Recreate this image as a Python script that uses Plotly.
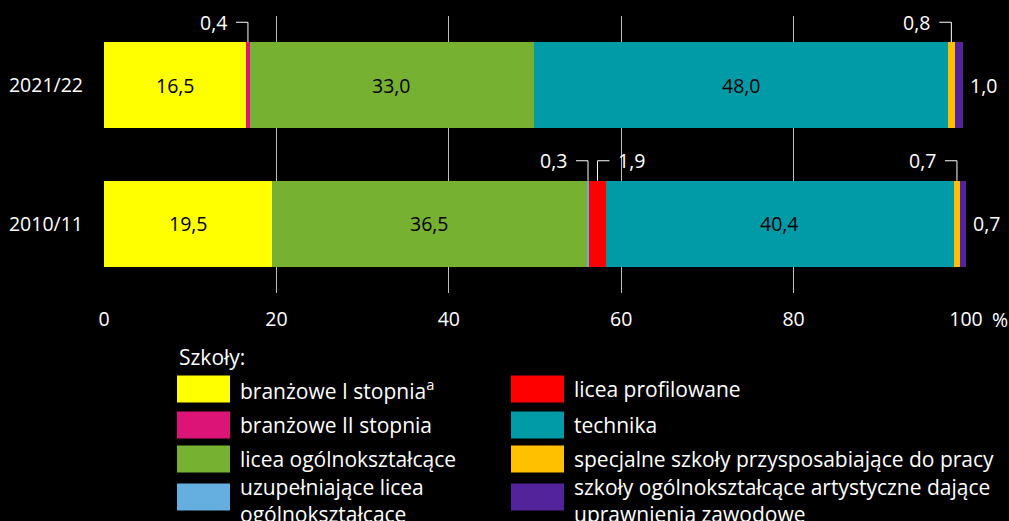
import plotly.graph_objects as go

categories = ["2010/11", "2021/22"]
series_names = [
    "branżowe I stopnia",
    "branżowe II stopnia",
    "licea ogólnokształcące",
    "uzupełniające licea ogólnokształcące",
    "licea profilowane",
    "technika",
    "specjalne szkoły przysposabiające do pracy",
    "szkoły ogólnokształcące artystyczne dające uprawnienia zawodowe",
]
legend_labels = [
    "branżowe I stopnia<sup>a</sup>",
    "branżowe II stopnia",
    "licea ogólnokształcące",
    "uzupełniające licea<br>ogólnokształcące",
    "licea profilowane",
    "technika",
    "specjalne szkoły przysposabiające do pracy",
    "szkoły ogólnokształcące artystyczne dające<br>uprawnienia zawodowe",
]
# values per series: [2010/11, 2021/22]
branzowe_I = [19.5, 16.5]
branzowe_II = [0.0, 0.4]
licea_ogolno = [36.5, 33.0]
uzup_licea = [0.3, 0.0]
licea_profil = [1.9, 0.0]
technika = [40.4, 48.0]
specjalne = [0.7, 0.8]
artystyczne = [0.7, 1.0]
values = [branzowe_I, branzowe_II, licea_ogolno, uzup_licea,
          licea_profil, technika, specjalne, artystyczne]

colors = ["#FFFF00", "#DC1478", "#76B131", "#64AEE0",
          "#FF0000", "#009BA7", "#FFC000", "#52239A"]

x_ticks = [0, 20, 40, 60, 80, 100]
x_ticktext = ["0", "20", "40", "60", "80", "100"]

FONT = "Open Sans"
FS = 19.5
LFS = 21
W, H = 1009, 521
L, R, T, B = 104, 43, 16, 228
PW = W - L - R
PH = H - T - B
BAR_W = 0.62
px_x = PW / 100.0
px_y = PH / 2.0

def fmt(v):
    return f"{v:.1f}".replace(".", ",")

fig = go.Figure()
for name, vals, col in zip(series_names, values, colors):
    fig.add_trace(go.Bar(
        y=categories, x=vals, name=name, orientation="h",
        marker=dict(color=col, line=dict(width=0)),
        width=BAR_W, showlegend=False, hoverinfo="x+name",
    ))

annotations = []
shapes = []

for ci, cat in enumerate(categories):
    cum = 0.0
    seg = []
    for si, vals in enumerate(values):
        v = vals[ci]
        seg.append((si, v, cum, cum + v))
        cum += v
    total = cum
    for si, v, x0, x1 in seg:
        if v <= 0:
            continue
        xc = (x0 + x1) / 2
        if v >= 5:
            annotations.append(dict(x=xc, y=cat, text=fmt(v), showarrow=False,
                                    font=dict(color="black", size=FS, family=FONT),
                                    xref="x", yref="y"))
        elif si == len(values) - 1:
            annotations.append(dict(x=total, y=cat, text=fmt(v), showarrow=False,
                                    xanchor="left", xshift=5,
                                    font=dict(color="white", size=FS, family=FONT),
                                    xref="x", yref="y"))
        else:
            top = ci + BAR_W / 2
            knee = ci + 63 / px_y
            direction = 1 if si == 4 else -1
            dx = 12 / px_x * direction
            shapes.append(dict(
                type="path", xref="x", yref="y",
                path=f"M {xc},{top} L {xc},{knee} L {xc + dx},{knee}",
                line=dict(color="white", width=1),
            ))
            annotations.append(dict(x=xc + dx, y=knee, text=fmt(v), showarrow=False,
                                    xanchor="left" if direction > 0 else "right",
                                    xshift=7 * direction,
                                    font=dict(color="white", size=FS, family=FONT),
                                    xref="x", yref="y"))

def px2paper(px, py):
    return (px - L) / PW, (T + PH - py) / PH

annotations.append(dict(x=100, y=px2paper(0, 319)[1], xref="x", yref="paper",
                        text="%", showarrow=False, xshift=34, yanchor="middle",
                        font=dict(color="white", size=FS, family=FONT)))

lx, ly = px2paper(177, 357)
annotations.append(dict(x=lx, y=ly, xref="paper", yref="paper", text="Szkoły:",
                        showarrow=False, xanchor="left", yanchor="middle",
                        font=dict(color="white", size=LFS, family=FONT)))
col_x = [177, 511]
row_y = [389, 425, 459, 497]
for i, (lab, col) in enumerate(zip(legend_labels, colors)):
    c, r = divmod(i, 4)
    sx0, sy0 = px2paper(col_x[c], row_y[r] - 13.5)
    sx1, sy1 = px2paper(col_x[c] + 53, row_y[r] + 13.5)
    shapes.append(dict(type="rect", xref="paper", yref="paper",
                       x0=sx0, x1=sx1, y0=sy1, y1=sy0,
                       fillcolor=col, line=dict(width=0)))
    tx, ty = px2paper(col_x[c] + 61, row_y[r] + (3 if r == 3 else 0))
    annotations.append(dict(x=tx, y=ty, xref="paper", yref="paper", text=lab,
                            showarrow=False, xanchor="left", yanchor="middle",
                            align="left",
                            font=dict(color="white", size=LFS, family=FONT)))

fig.update_layout(
    width=W, height=H,
    margin=dict(l=L, r=R, t=T, b=B),
    barmode="stack",
    paper_bgcolor="black", plot_bgcolor="black",
    font=dict(family=FONT, size=FS, color="white"),
    xaxis=dict(range=[0, 100], tickvals=x_ticks, ticktext=x_ticktext,
               showgrid=True, gridcolor="#bdbdbd", gridwidth=1,
               zeroline=False, showline=False, ticks="", automargin=False,
               ticklabelstandoff=12,
               tickfont=dict(color="white", size=FS, family=FONT)),
    yaxis=dict(range=[-0.5, 1.5], showgrid=False, zeroline=False,
               ticks="", ticklabelstandoff=20, automargin=False,
               tickfont=dict(color="white", size=FS, family=FONT)),
    annotations=annotations,
    shapes=shapes,
)

fig.write_html("out.html", config={"displayModeBar": False})

with open("out.html", "r", encoding="utf-8") as f:
    html = f.read()
html = html.replace("<head>", "<head><style>html,body{margin:0;padding:0;background:#000;overflow:hidden;}</style>", 1)
with open("out.html", "w", encoding="utf-8") as f:
    f.write(html)
